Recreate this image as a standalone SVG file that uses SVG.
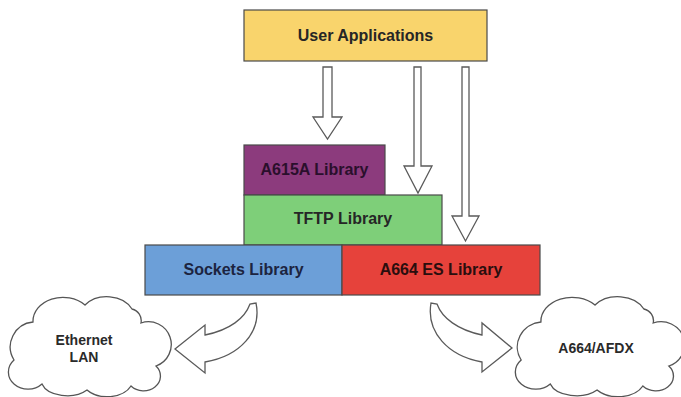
<svg xmlns="http://www.w3.org/2000/svg" width="681" height="397" viewBox="0 0 681 397">
<style>
.box{stroke:#4a4a4a;stroke-width:1.2}
.lbl{font-family:"Liberation Sans",Arial,sans-serif;font-weight:bold;font-size:16px;text-anchor:middle;fill:#262626}
.cl{font-family:"Liberation Sans",Arial,sans-serif;font-weight:bold;font-size:14px;text-anchor:middle;fill:#2a2a2a}
.arr{fill:#ffffff;stroke:#5a5a5a;stroke-width:1.3;stroke-linejoin:miter}
.cloud{fill:#ffffff;stroke:#555;stroke-width:1.3}
</style>
<defs>
<path id="cloudshape" d="M 33,322 A 30,24 0 0 1 85,305 A 28,22 0 0 1 132,309 A 12,12 0 0 1 141,323 A 22,22 0 0 1 156,366 A 16,14 0 0 1 131,386 A 26,18 0 0 1 87,390 A 26,16 0 0 1 42,384 A 16,14 0 0 1 14,360 A 25,25 0 0 1 33,322 Z"/>
</defs>
<rect width="681" height="397" fill="#ffffff"/>
<g id="connectors">
<path class="arr" d="M323,67 L332,67 L332,117 L342,117 L327.5,139 L313,117 L323,117 Z"/>
<path class="arr" d="M414,67 L421,67 L421,166 L432,166 L418,193 L404,166 L414,166 Z"/>
<path class="arr" d="M462,67 L469,67 L469,216 L479,216 L465.5,241 L452,216 L462,216 Z"/>
<path class="arr" d="M256,303 C262,332 240,356 205,362 L205,373 L175,349 L205,325 L205,335 C230,330 245,318 250,304 Z"/>
<path class="arr" d="M431,303 C426,332 448,356 482,362 L482,372 L512,348 L482,323 L482,335 C458,330 442,318 437,304 Z"/>
</g>
<g id="user-apps">
<rect class="box" x="244" y="10" width="243" height="51" fill="#f9d46c"/>
<text class="lbl" x="365.5" y="41">User Applications</text>
</g>
<g id="a615a">
<rect class="box" x="244" y="145" width="141" height="50" fill="#8c3b7d"/>
<text class="lbl" x="314.5" y="175" style="fill:#2a0f2c">A615A Library</text>
</g>
<g id="tftp">
<rect class="box" x="244" y="195" width="198" height="50" fill="#7ecf79"/>
<text class="lbl" x="343" y="224">TFTP Library</text>
</g>
<g id="sockets">
<rect class="box" x="145" y="245" width="197" height="50" fill="#6c9fd8"/>
<text class="lbl" x="243.5" y="275" style="fill:#1c2440">Sockets Library</text>
</g>
<g id="a664es">
<rect class="box" x="342" y="245" width="198" height="50" fill="#e6423b"/>
<text class="lbl" x="441" y="275" style="fill:#2a0e0e">A664 ES Library</text>
</g>
<g id="ethernet-lan">
<use href="#cloudshape" class="cloud"/>
<text class="cl" x="84" y="345">Ethernet</text>
<text class="cl" x="84" y="362">LAN</text>
</g>
<g id="afdx">
<use href="#cloudshape" class="cloud" transform="translate(517,0) scale(1.04,1) translate(-10,0)"/>
<text class="cl" x="596" y="353">A664/AFDX</text>
</g>
</svg>
